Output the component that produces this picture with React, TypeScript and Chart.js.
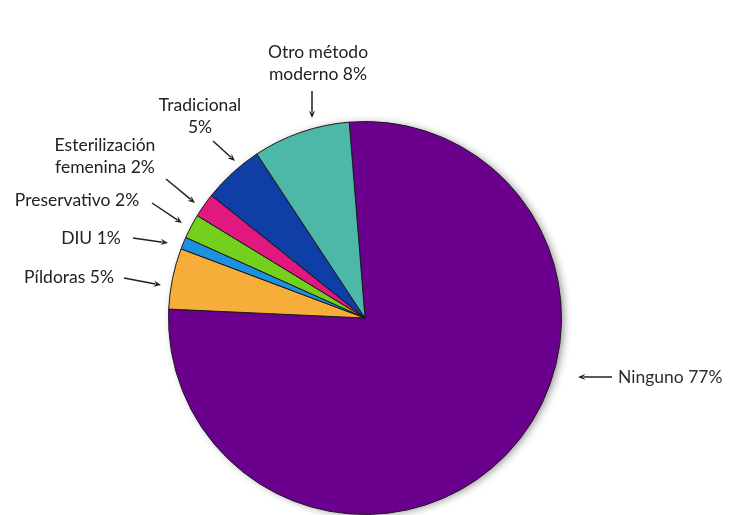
import React, { useEffect, useRef } from "react";
import { Chart, registerables } from "chart.js";

Chart.register(...registerables);

const categories = [
  "Ninguno",
  "Píldoras",
  "DIU",
  "Preservativo",
  "Esterilización femenina",
  "Tradicional",
  "Otro método moderno",
];
const values = [77, 5, 1, 2, 2, 5, 8];
const sliceColors = ["#6b008e", "#f7ad3a", "#1e90e0", "#74d01c", "#e0187f", "#0f3ea6", "#4db7a8"];

// Label text lines (per category) and annotation layout
const labelLines = [
  ["Ninguno 77%"],
  ["Píldoras 5%"],
  ["DIU 1%"],
  ["Preservativo 2%"],
  ["Esterilización", "femenina 2%"],
  ["Tradicional", "5%"],
  ["Otro método", "moderno 8%"],
];
const labelLayout = [
  { x: 618, y: 377, align: "left", arrow: [612, 377, 578, 377] },
  { x: 69, y: 277, align: "center", arrow: [124, 278, 161, 285] },
  { x: 91, y: 238, align: "center", arrow: [133, 238, 168, 243] },
  { x: 77, y: 200, align: "center", arrow: [152, 203, 182, 223] },
  { x: 105, y: 145, align: "center", arrow: [166, 179, 195, 203] },
  { x: 200, y: 105, align: "center", arrow: [213, 141, 235, 161] },
  { x: 318, y: 52, align: "center", arrow: [312, 91, 312, 118] },
];

const drawArrow = (ctx: CanvasRenderingContext2D, a: number[]) => {
  const [x1, y1, x2, y2] = a;
  const ang = Math.atan2(y2 - y1, x2 - x1);
  const head = 8;
  ctx.beginPath();
  ctx.moveTo(x1, y1);
  ctx.lineTo(x2 - Math.cos(ang) * head * 0.7, y2 - Math.sin(ang) * head * 0.7);
  ctx.strokeStyle = "#222";
  ctx.lineWidth = 1.5;
  ctx.stroke();
  ctx.beginPath();
  ctx.moveTo(x2, y2);
  ctx.lineTo(x2 - Math.cos(ang - 0.4) * head, y2 - Math.sin(ang - 0.4) * head);
  ctx.lineTo(x2 - Math.cos(ang) * head * 0.6, y2 - Math.sin(ang) * head * 0.6);
  ctx.lineTo(x2 - Math.cos(ang + 0.4) * head, y2 - Math.sin(ang + 0.4) * head);
  ctx.closePath();
  ctx.fillStyle = "#222";
  ctx.fill();
};

const annotationPlugin = {
  id: "annotations",
  beforeDatasetsDraw(chart: any) {
    const arc = chart.getDatasetMeta(0).data[0];
    if (!arc) return;
    const ctx = chart.ctx;
    ctx.save();
    ctx.shadowColor = "rgba(0,0,0,0.45)";
    ctx.shadowBlur = 8;
    ctx.shadowOffsetX = 3;
    ctx.shadowOffsetY = 1;
    ctx.beginPath();
    ctx.arc(arc.x, arc.y, arc.outerRadius - 1, 0, Math.PI * 2);
    ctx.fillStyle = "#6b008e";
    ctx.fill();
    ctx.restore();
  },
  afterDatasetsDraw(chart: any) {
    const ctx = chart.ctx;
    ctx.save();
    ctx.font = "17.5px Lato, 'Open Sans', sans-serif";
    ctx.fillStyle = "#2e2e2e";
    ctx.textBaseline = "middle";
    labelLines.forEach((lines, i) => {
      const l = labelLayout[i];
      ctx.textAlign = l.align as CanvasTextAlign;
      lines.forEach((t, j) => ctx.fillText(t, l.x, l.y + j * 22));
      drawArrow(ctx, l.arrow);
    });
    ctx.restore();
  },
};

export default function App() {
  const ref = useRef<HTMLCanvasElement>(null);
  useEffect(() => {
    if (!ref.current) return;
    const chart = new Chart(ref.current, {
      type: "pie",
      data: {
        labels: categories,
        datasets: [
          {
            data: values,
            backgroundColor: sliceColors,
            borderColor: "#1a1a1a",
            borderWidth: 1,
          },
        ],
      },
      options: {
        responsive: false,
        animation: false,
        rotation: -4.6,
        layout: { padding: { left: 167, right: 166, top: 121, bottom: 0 } },
        plugins: {
          legend: { display: false },
          tooltip: { enabled: false },
        },
      },
      plugins: [annotationPlugin],
    });
    return () => chart.destroy();
  }, []);
  return (
    <div style={{ position: "absolute", left: 0, top: 0, width: 729, height: 515, background: "#fff" }}>
      <canvas ref={ref} width={729} height={515} />
    </div>
  );
}
